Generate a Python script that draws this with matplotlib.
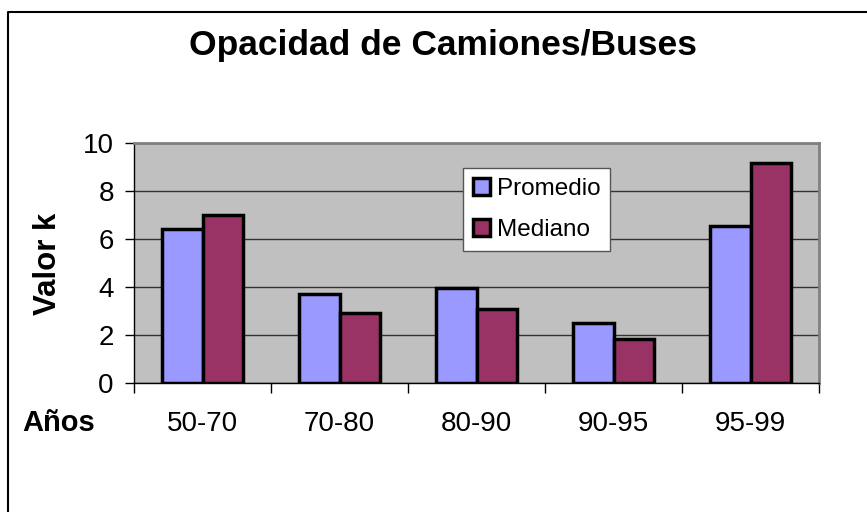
import matplotlib
matplotlib.use("Agg")
import matplotlib.pyplot as plt
import numpy as np
from matplotlib.lines import Line2D

categories = ["50-70", "70-80", "80-90", "90-95", "95-99"]
promedio = [6.4, 3.7, 3.95, 2.5, 6.55]
mediano = [7.0, 2.9, 3.1, 1.85, 9.15]
yticks = [0, 2, 4, 6, 8, 10]

W, H = 867, 512
fig = plt.figure(figsize=(W/100, H/100), dpi=100)
fig.patch.set_facecolor("white")
plt.rcParams['font.family'] = ['Liberation Sans', 'DejaVu Sans']

ax = fig.add_axes([134/W, 1-383/H, (819-134)/W, (383-143)/H])
ax.set_facecolor("#C0C0C0")
x = np.arange(len(categories))
bw = 0.292
ax.bar(x - bw/2, promedio, bw, color="#9999FF", edgecolor="black", linewidth=2.5, label="Promedio", zorder=3)
ax.bar(x + bw/2, mediano, bw, color="#993366", edgecolor="black", linewidth=2.5, label="Mediano", zorder=3)

ax.set_xlim(-0.5, len(categories)-0.5)
ax.set_ylim(0, 10)
ax.set_yticks(yticks)
ax.set_yticklabels([str(v) for v in yticks], fontsize=20)
ax.yaxis.grid(True, color="#333333", linewidth=1.0, zorder=1)
ax.set_axisbelow(True)

ax.set_xticks(np.arange(len(categories)+1) - 0.5)
ax.set_xticklabels([])
ax.set_xticks(x, minor=True)
ax.set_xticklabels(categories, minor=True, fontsize=20)
ax.tick_params(axis='x', which='major', length=7, width=1, direction='out', color="black")
ax.tick_params(axis='x', which='minor', length=0, pad=20)
ax.tick_params(axis='y', length=6.5, width=1, direction='out', pad=8)

for s in ["top", "right"]:
    ax.spines[s].set_color("#808080")
    ax.spines[s].set_linewidth(2)
ax.spines["left"].set_color("black")
ax.spines["bottom"].set_color("black")
ax.spines["left"].set_linewidth(1)
ax.spines["bottom"].set_linewidth(1)

leg = ax.legend(loc="upper left", bbox_to_anchor=((463-134)/(819-134), (383-168)/240),
                fontsize=17.5, frameon=True, fancybox=False, edgecolor="#555555",
                handlelength=0.7, handleheight=0.7, handletextpad=0.3,
                borderpad=0.4, labelspacing=0.8, borderaxespad=0, framealpha=1)
leg.get_frame().set_linewidth(1)
for p in leg.get_patches():
    p.set_linewidth(2.5)

fig.text(443/W, 1-45/H, "Opacidad de Camiones/Buses", ha="center", va="center",
         fontsize=25.5, fontweight="bold")
fig.text(48/W, 1-264/H, "Valor k", ha="center", va="center", rotation=90,
         fontsize=22.5, fontweight="bold")
fig.text(22/W, 1-423/H, "Años", ha="left", va="center", fontsize=21, fontweight="bold")

fig.add_artist(Line2D([8/W, 8/W, 1.0], [0, 1-12/H, 1-12/H], transform=fig.transFigure,
                      color="black", linewidth=1.5))

fig.savefig("out.png", dpi=100)
